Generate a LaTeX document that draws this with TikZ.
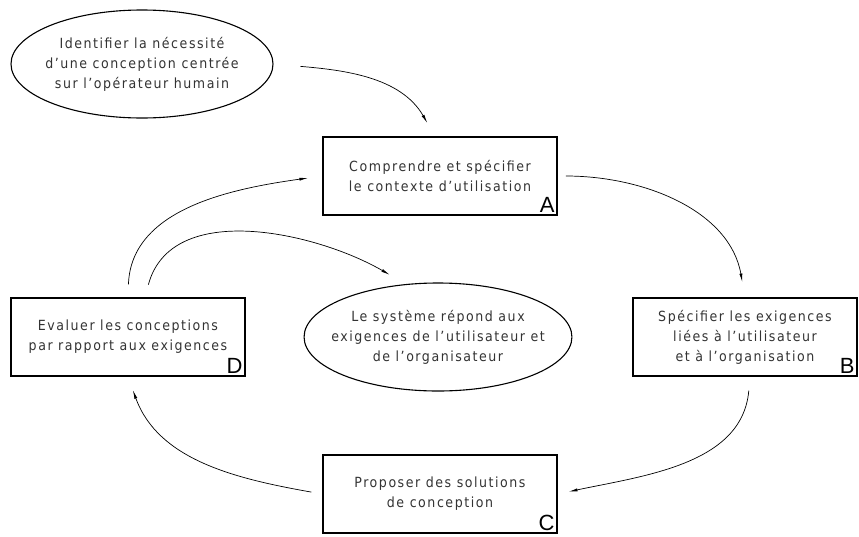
\documentclass[tikz,border=0pt]{standalone}
\usepackage{fontspec}
\setmainfont{DejaVu Sans Condensed}[LetterSpace=11]
\newfontfamily\tagfont{Liberation Sans}
\usetikzlibrary{shapes.geometric,arrows.meta}
\begin{document}
\begin{tikzpicture}[x=1pt,y=-1pt,
  etape/.style={draw,line width=1.5pt,minimum width=234pt,minimum height=78pt,align=center,text=black!80,font=\fontsize{14}{20}\selectfont},
  bulle/.style={draw,ellipse,line width=1.1pt,inner xsep=-12pt,inner ysep=0pt,minimum width=262pt,minimum height=108pt,align=center,text=black!80,font=\fontsize{14}{20}\selectfont},
  lettre/.style={anchor=south east,inner sep=3pt,font=\tagfont\fontsize{22}{22}\selectfont},
  fleche/.style={->,>={Latex[length=9pt,width=3pt]},line width=0.7pt}]
\useasboundingbox (0,0) rectangle (859,536);
\node[bulle] (E1) at (142,64) {Identifier la nécessité\\d’une conception centrée\\sur l’opérateur humain};
\node[bulle] (E2) at (438,337) {Le système répond aux\\exigences de l’utilisateur et\\de l’organisateur};
\node[etape] (A) at (440,176) {Comprendre et spécifier\\le contexte d’utilisation};
\node[etape,minimum width=224pt] (B) at (745,337) {Spécifier les exigences\\liées à l’utilisateur\\et à l’organisation};
\node[etape] (C) at (440,494) {Proposer des solutions\\de conception};
\node[etape] (D) at (128,337) {Evaluer les conceptions\\par rapport aux exigences};
\node[lettre] (LA) at (A.south east) {A};
\node[lettre] (LB) at (B.south east) {B};
\node[lettre] (LC) at (C.south east) {C};
\node[lettre] (LD) at (D.south east) {D};
% le cycle
\draw[fleche,shorten <=27pt,shorten >=15pt] (E1.east) to[out=-5,in=120] ([xshift=-5pt]A.north);
\draw[fleche,shorten <=8pt,shorten >=15pt] (A.east) to[out=0,in=100] (B.north);
\draw[fleche,shorten <=14pt,shorten >=11pt] ([xshift=5pt]B.south) to[out=-95,in=12] (C.east);
\draw[fleche,shorten <=11pt,shorten >=14pt] (C.west) to[out=170,in=-70] (D.south);
\draw[fleche,shorten <=13pt,shorten >=14pt] (D.north) to[out=88,in=188] (A.west);
\draw[fleche,shorten <=13pt,shorten >=15pt] ([xshift=17pt]D.north) to[out=75,in=150] ([xshift=-35pt]E2.north);
\end{tikzpicture}
\end{document}
